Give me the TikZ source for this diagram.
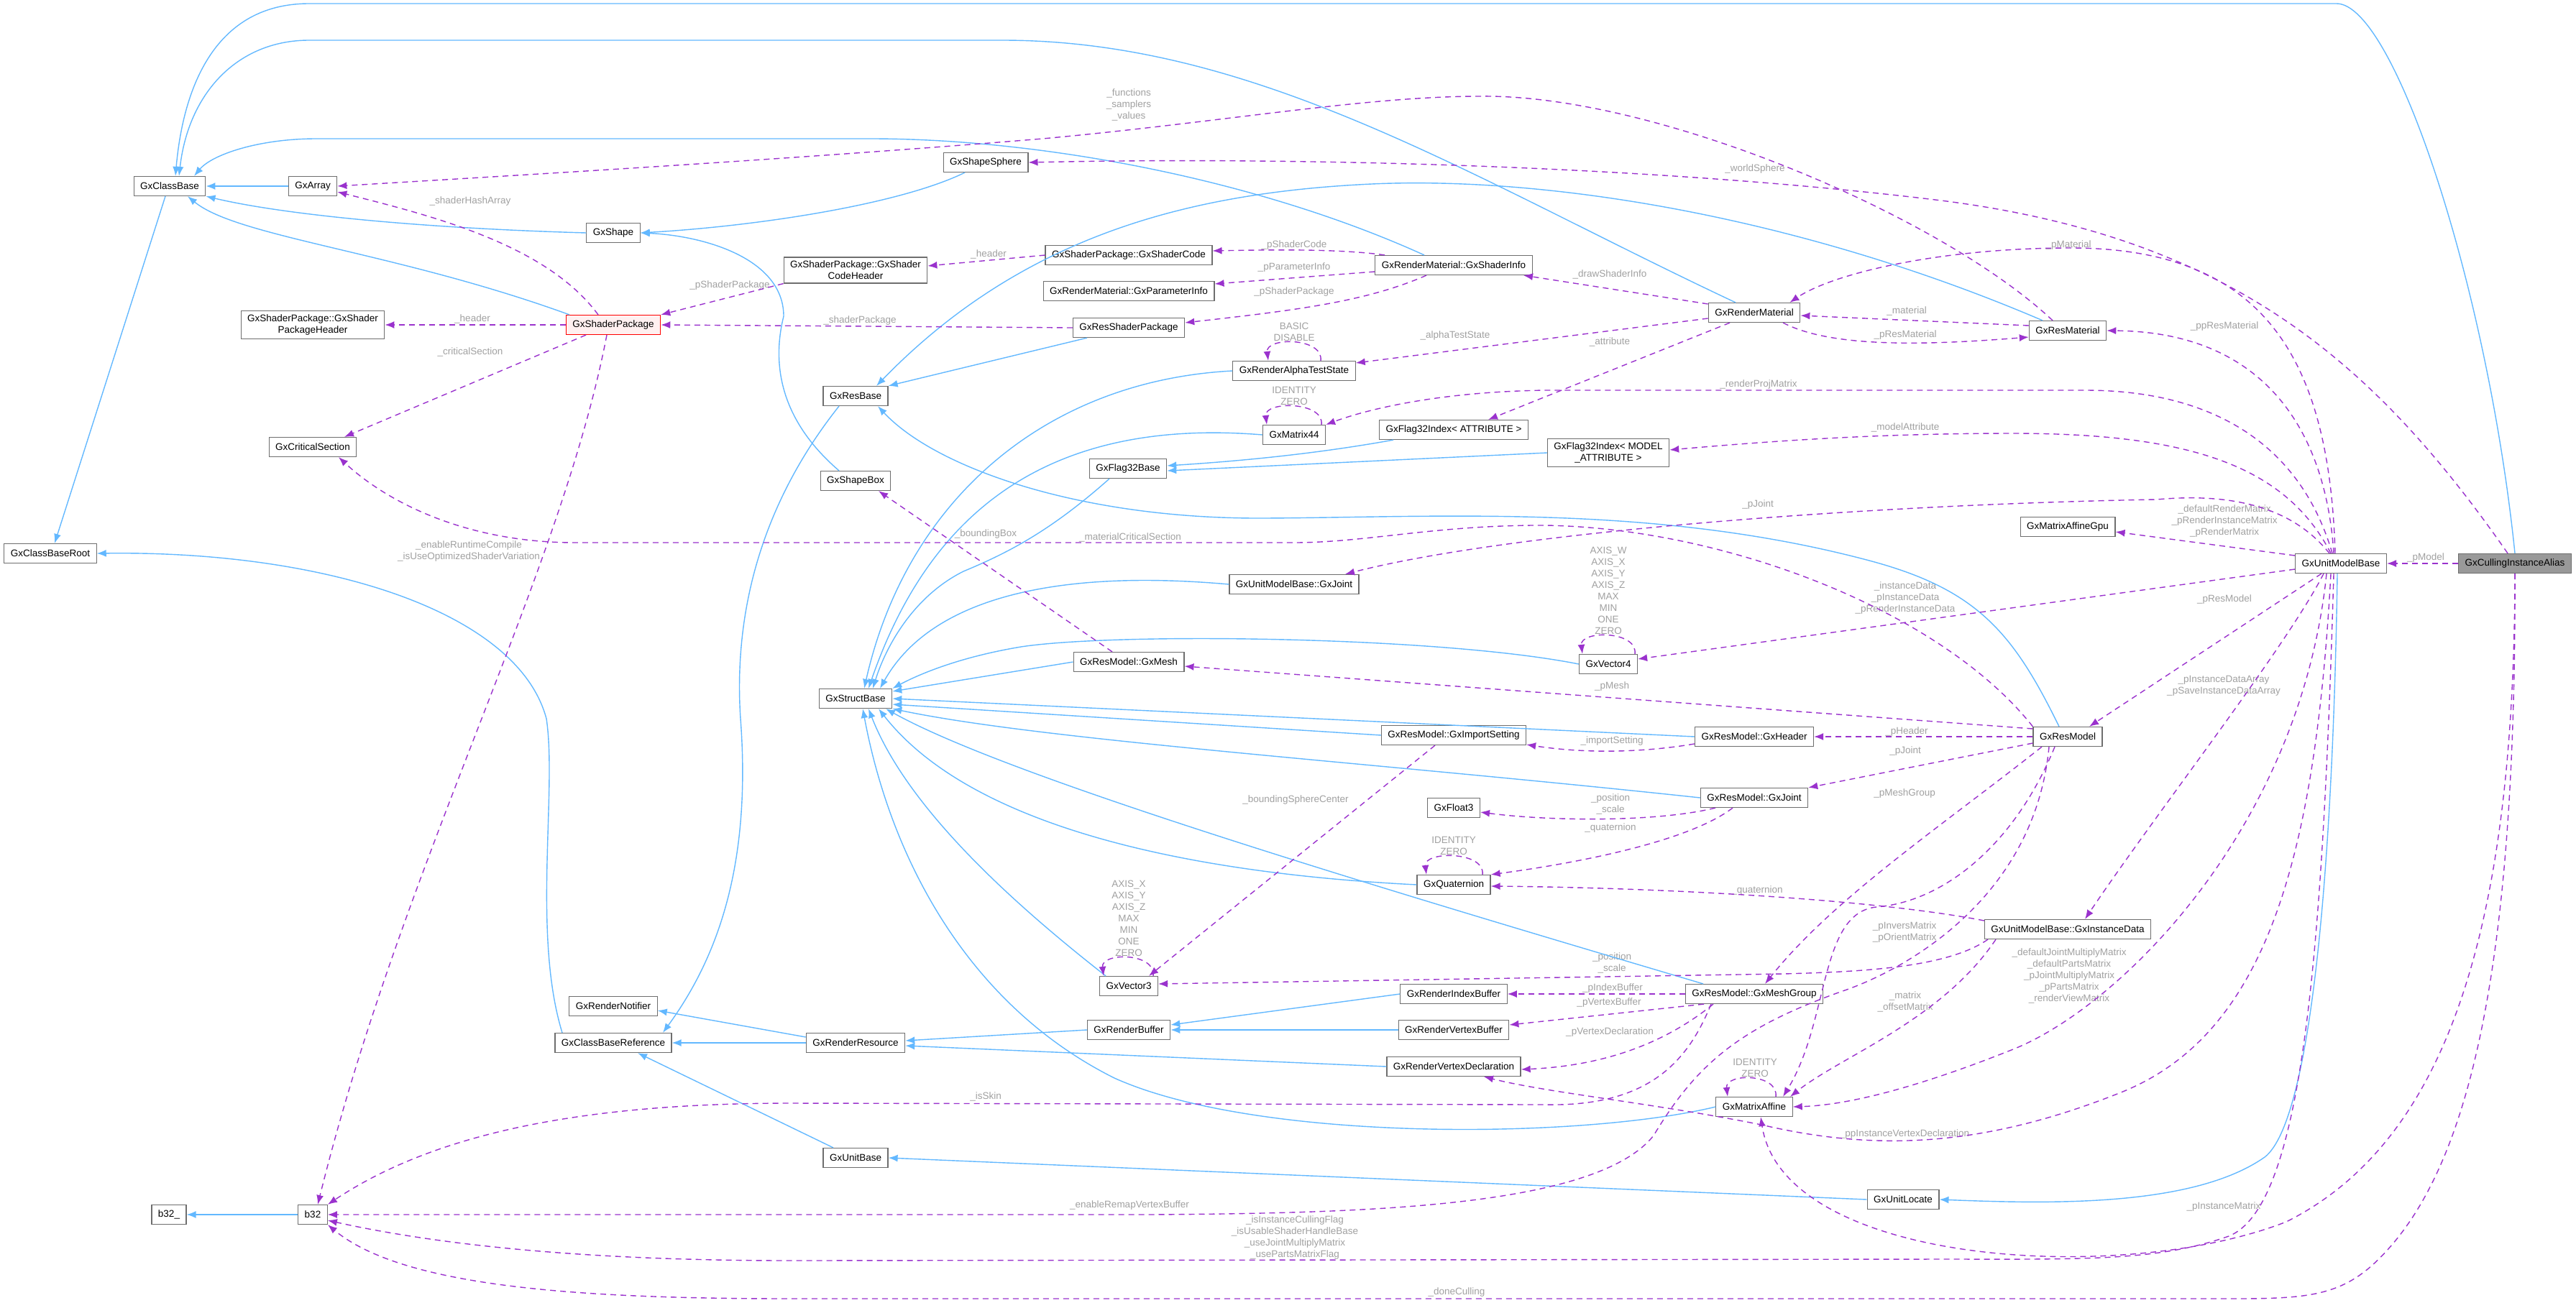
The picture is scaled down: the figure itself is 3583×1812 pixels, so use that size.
\documentclass[tikz,border=0pt]{standalone}
\usepackage{fontspec}
\setmainfont{Liberation Sans}
\usetikzlibrary{arrows.meta}

\definecolor{inhblue}{HTML}{63B8FF}
\definecolor{usepurple}{HTML}{9A32CD}
\definecolor{boxgray}{HTML}{6E6E6E}
\definecolor{lblgray}{HTML}{A0A0A0}
\definecolor{redframe}{HTML}{FF0000}
\definecolor{pinkfill}{HTML}{FFF0F0}
\definecolor{aliasfill}{HTML}{999999}

\tikzset{
    cls/.style={draw=boxgray, line width=1.2pt, fill=white, inner xsep=9pt, inner ysep=5pt,
        minimum height=27pt, align=center, font=\fontsize{13.5}{16}\selectfont},
    lbl/.style={text=lblgray, inner sep=0pt, align=center, font=\fontsize{13.5}{16}\selectfont},
    inh/.style={draw=inhblue, line width=1.4pt, -{Latex[length=13pt,width=10pt]}},
    use/.style={draw=usepurple, line width=1.4pt, dash pattern=on 8pt off 6pt, -{Latex[length=13pt,width=10pt]}}
}

\begin{document}
\begin{tikzpicture}[x=1pt,y=-1pt]
    \useasboundingbox (0,0) rectangle (3583,1812);

    % classes
    \node[cls, fill=aliasfill] (alias) at (3498,784) {GxCullingInstanceAlias};
    \node[cls] (umb) at (3256,784) {GxUnitModelBase};
    \node[cls] (gpu) at (2876,733) {GxMatrixAffineGpu};
    \node[cls] (resmat) at (2876,460) {GxResMaterial};
    \node[cls] (resmodel) at (2876,1025) {GxResModel};
    \node[cls] (instdata) at (2876,1293) {GxUnitModelBase::GxInstanceData};
    \node[cls] (rendermat) at (2440,435) {GxRenderMaterial};
    \node[cls] (flagmodel) at (2237,630) {GxFlag32Index< MODEL\\\_ATTRIBUTE >};
    \node[cls] (vec4) at (2237,924) {GxVector4};
    \node[cls] (header) at (2440,1025) {GxResModel::GxHeader};
    \node[cls] (resjoint) at (2440,1110) {GxResModel::GxJoint};
    \node[cls] (meshgroup) at (2440,1383) {GxResModel::GxMeshGroup};
    \node[cls] (maffine) at (2440,1540) {GxMatrixAffine};
    \node[cls] (unitlocate) at (2647,1669) {GxUnitLocate};
    \node[cls] (shaderinfo) at (2022,369) {GxRenderMaterial::GxShaderInfo};
    \node[cls] (flagattr) at (2022,598) {GxFlag32Index< ATTRIBUTE >};
    \node[cls] (importset) at (2022,1023) {GxResModel::GxImportSetting};
    \node[cls] (float3) at (2022,1124) {GxFloat3};
    \node[cls] (quat) at (2022,1231) {GxQuaternion};
    \node[cls] (idxbuf) at (2022,1383) {GxRenderIndexBuffer};
    \node[cls] (vtxbuf) at (2022,1433) {GxRenderVertexBuffer};
    \node[cls] (vtxdecl) at (2022,1484) {GxRenderVertexDeclaration};
    \node[cls] (shadercode) at (1570,355) {GxShaderPackage::GxShaderCode};
    \node[cls] (paraminfo) at (1570,405) {GxRenderMaterial::GxParameterInfo};
    \node[cls] (resshaderpkg) at (1570,456) {GxResShaderPackage};
    \node[cls] (alphatest) at (1800,516) {GxRenderAlphaTestState};
    \node[cls] (mat44) at (1800,605) {GxMatrix44};
    \node[cls] (flagbase) at (1569,652) {GxFlag32Base};
    \node[cls] (umbjoint) at (1800,813) {GxUnitModelBase::GxJoint};
    \node[cls] (mesh) at (1570,921) {GxResModel::GxMesh};
    \node[cls] (vec3) at (1570,1372) {GxVector3};
    \node[cls] (renderbuf) at (1570,1433) {GxRenderBuffer};
    \node[cls] (shapesphere) at (1371,226) {GxShapeSphere};
    \node[cls] (codeheader) at (1190,376) {GxShaderPackage::GxShader\\CodeHeader};
    \node[cls] (resbase) at (1190,551) {GxResBase};
    \node[cls] (shapebox) at (1190,669) {GxShapeBox};
    \node[cls] (structbase) at (1190,972) {GxStructBase};
    \node[cls] (renderres) at (1190,1451) {GxRenderResource};
    \node[cls] (unitbase) at (1190,1611) {GxUnitBase};
    \node[cls] (shape) at (853,324) {GxShape};
    \node[cls, draw=redframe, fill=pinkfill] (shaderpkg) at (853,452) {GxShaderPackage};
    \node[cls] (notifier) at (853,1400) {GxRenderNotifier};
    \node[cls] (cbref) at (853,1451) {GxClassBaseReference};
    \node[cls] (array) at (435,259) {GxArray};
    \node[cls] (pkgheader) at (435,452) {GxShaderPackage::GxShader\\PackageHeader};
    \node[cls] (critsec) at (435,622) {GxCriticalSection};
    \node[cls] (b32) at (435,1690) {b32};
    \node[cls] (classbase) at (236,259) {GxClassBase};
    \node[cls] (cbroot) at (70,770) {GxClassBaseRoot};
    \node[cls] (b32u) at (235,1690) {b32\_};

    % member labels
    \node[lbl] (lfunc) at (1570,146) {\_functions\\\_samplers\\\_values};
    \node[lbl] (lhash) at (654,280) {\_shaderHashArray};
    \node[lbl] (lpkghdr) at (657,444) {\_header};
    \node[lbl] (lcrit) at (654,490) {\_criticalSection};
    \node[lbl] (lruntime) at (652,767) {\_enableRuntimeCompile\\\_isUseOptimizedShaderVariation};
    \node[lbl] (lpshpkg) at (1015,397) {\_pShaderPackage};
    \node[lbl] (lshpkg) at (1196,446) {\_shaderPackage};
    \node[lbl] (lcodehdr) at (1375,354) {\_header};
    \node[lbl] (lpcode) at (1800,341) {\_pShaderCode};
    \node[lbl] (lpparam) at (1800,372) {\_pParameterInfo};
    \node[lbl] (lpshpkg2) at (1800,406) {\_pShaderPackage};
    \node[lbl] (ldraw) at (2239,382) {\_drawShaderInfo};
    \node[lbl] (lalpha) at (2024,467) {\_alphaTestState};
    \node[lbl] (lattr) at (2239,476) {\_attribute};
    \node[lbl] (lmaterial) at (2652,433) {\_material};
    \node[lbl] (lpresmat) at (2650,466) {\_pResMaterial};
    \node[lbl] (lproj) at (2446,535) {\_renderProjMatrix};
    \node[lbl] (lmodattr) at (2650,595) {\_modelAttribute};
    \node[lbl] (lworld) at (2441,235) {\_worldSphere};
    \node[lbl] (lpmat) at (2877,341) {\_pMaterial};
    \node[lbl] (lppresmat) at (3094,454) {\_ppResMaterial};
    \node[lbl] (lrender) at (3094,725) {\_defaultRenderMatrix\\\_pRenderInstanceMatrix\\\_pRenderMatrix};
    \node[lbl] (lpmodel) at (3374,776) {\_pModel};
    \node[lbl] (lpresmodel) at (3094,834) {\_pResModel};
    \node[lbl] (lpjoint) at (2445,702) {\_pJoint};
    \node[lbl] (linst) at (2650,832) {\_instanceData\\\_pInstanceData\\\_pRenderInstanceData};
    \node[lbl] (lpmesh) at (2242,955) {\_pMesh};
    \node[lbl] (lpheader) at (2652,1018) {\_pHeader};
    \node[lbl] (limport) at (2242,1031) {\_importSetting};
    \node[lbl] (lpjoint2) at (2650,1045) {\_pJoint};
    \node[lbl] (lpmeshgroup) at (2649,1104) {\_pMeshGroup};
    \node[lbl] (lposscale) at (2240,1119) {\_position\\\_scale};
    \node[lbl] (lquat) at (2240,1152) {\_quaternion};
    \node[lbl] (lquat2) at (2444,1239) {\_quaternion};
    \node[lbl] (lbbox) at (1371,743) {\_boundingBox};
    \node[lbl] (lmatcrit) at (1572,748) {\_materialCriticalSection};
    \node[lbl] (lbsphere) at (1802,1113) {\_boundingSphereCenter};
    \node[lbl] (linvers) at (2649,1297) {\_pInversMatrix\\\_pOrientMatrix};
    \node[lbl] (lposscale2) at (2242,1340) {\_position\\\_scale};
    \node[lbl] (lidx) at (2243,1375) {\_pIndexBuffer};
    \node[lbl] (lvtx) at (2238,1395) {\_pVertexBuffer};
    \node[lbl] (ldecl) at (2239,1436) {\_pVertexDeclaration};
    \node[lbl] (lmatrix) at (2650,1394) {\_matrix\\\_offsetMatrix};
    \node[lbl] (ljointmul) at (2878,1358) {\_defaultJointMultiplyMatrix\\\_defaultPartsMatrix\\\_pJointMultiplyMatrix\\\_pPartsMatrix\\\_renderViewMatrix};
    \node[lbl] (ldataarr) at (3093,954) {\_pInstanceDataArray\\\_pSaveInstanceDataArray};
    \node[lbl] (lppdecl) at (2649,1578) {\_ppInstanceVertexDeclaration};
    \node[lbl] (linstmat) at (3093,1679) {\_pInstanceMatrix};
    \node[lbl] (lskin) at (1371,1526) {\_isSkin};
    \node[lbl] (lremap) at (1571,1677) {\_enableRemapVertexBuffer};
    \node[lbl] (lflags) at (1801,1722) {\_isInstanceCullingFlag\\\_isUsableShaderHandleBase\\\_useJointMultiplyMatrix\\\_usePartsMatrixFlag};
    \node[lbl] (ldone) at (2026,1798) {\_doneCulling};
    \node[lbl] (lalphaself) at (1800,462) {BASIC\\DISABLE};
    \node[lbl] (lmat44self) at (1800,551) {IDENTITY\\ZERO};
    \node[lbl] (lvec4self) at (2237,822) {AXIS\_W\\AXIS\_X\\AXIS\_Y\\AXIS\_Z\\MAX\\MIN\\ONE\\ZERO};
    \node[lbl] (lvec3self) at (1570,1278) {AXIS\_X\\AXIS\_Y\\AXIS\_Z\\MAX\\MIN\\ONE\\ZERO};
    \node[lbl] (lquatself) at (2022,1177) {IDENTITY\\ZERO};
    \node[lbl] (lmaffself) at (2441,1486) {IDENTITY\\ZERO};

    % inheritance
    \draw[inh] (alias.north) .. controls (3460,400) and (3330,5) .. (3250,5) -- (430,5) .. controls (300,5) and (255,120) .. ([xshift=8pt]classbase.north);
    \draw[inh] ([xshift=-26pt]rendermat.north) .. controls (2050,250) and (1750,56) .. (1394,56) -- (430,56) .. controls (330,56) and (262,130) .. ([xshift=13pt]classbase.north);
    \draw[inh] ([xshift=-41pt]shaderinfo.north) .. controls (1750,250) and (1450,193) .. (1211,193) -- (440,193) .. controls (360,193) and (295,215) .. ([xshift=34pt]classbase.north);
    \draw[inh] ([xshift=-35pt]resmat.north) .. controls (2500,300) and (2150,245) .. (1908,256) .. controls (1650,268) and (1420,330) .. ([xshift=29pt]resbase.north);
    \draw[inh] (array.west) -- (classbase.east);
    \draw[inh] (shape.west) .. controls (600,318) and (400,300) .. (classbase.south east);
    \draw[inh] ([xshift=-61pt]shaderpkg.north) .. controls (550,350) and (330,330) .. ([xshift=25pt]classbase.south);
    \draw[inh] ([xshift=-6pt]classbase.south) -- ([xshift=6pt]cbroot.north);
    \draw[inh] ([xshift=-29pt]shapesphere.south) .. controls (1250,285) and (1050,315) .. (shape.east);
    \draw[inh] ([xshift=-23pt]shapebox.north) .. controls (1080,580) and (1075,500) .. (1090,440) .. controls (1090,360) and (980,328) .. (shape.east);
    \draw[inh] ([xshift=-58pt]resshaderpkg.south) -- (resbase.north east);
    \draw[inh] ([xshift=-23pt]resbase.south) .. controls (1060,700) and (1020,850) .. (1030,1000) .. controls (1045,1200) and (1000,1330) .. ([xshift=69pt]cbref.north);
    \draw[inh] ([xshift=-71pt]cbref.north) .. controls (740,1300) and (775,1100) .. (760,1000) .. controls (720,850) and (450,766) .. (cbroot.east);
    \draw[inh] (renderres.west) -- (cbref.east);
    \draw[inh] ([yshift=8pt]renderres.west) -- ([yshift=-6pt]notifier.east);
    \draw[inh] ([xshift=-31pt]unitbase.north) -- ([xshift=34pt]cbref.south);
    \draw[inh] (renderbuf.west) -- ([yshift=3pt]renderres.east);
    \draw[inh] (vtxdecl.west) -- ([yshift=-4pt]renderres.east);
    \draw[inh] (idxbuf.west) -- ([yshift=7pt]renderbuf.east);
    \draw[inh] (vtxbuf.west) -- (renderbuf.east);
    \draw[inh] (unitlocate.west) -- (unitbase.east);
    \draw[inh] ([xshift=-5pt]umb.south) .. controls (3245,1200) and (3215,1560) .. (3150,1610) .. controls (3050,1680) and (2850,1675) .. (unitlocate.east);
    \draw[inh] (alphatest.west) .. controls (1450,530) and (1260,700) .. ([xshift=12pt]structbase.north);
    \draw[inh] (mat44.west) .. controls (1450,580) and (1290,720) .. ([xshift=18pt]structbase.north);
    \draw[inh] ([xshift=-26pt]flagbase.south) .. controls (1460,740) and (1400,770) .. (1340,795) .. controls (1270,830) and (1232,900) .. ([xshift=24pt]structbase.north);
    \draw[inh] ([xshift=-84pt]flagattr.south) .. controls (1850,628) and (1750,640) .. ([yshift=4pt]flagbase.east);
    \draw[inh] (flagmodel.west) -- ([yshift=-3pt]flagbase.east);
    \draw[inh] (umbjoint.west) .. controls (1450,790) and (1290,840) .. ([xshift=34pt]structbase.north);
    \draw[inh] (vec4.west) .. controls (2000,885) and (1550,880) .. (1420,900) .. controls (1330,915) and (1275,940) .. (structbase.north east);
    \draw[inh] (mesh.west) -- ([yshift=10pt]structbase.east);
    \draw[inh] (header.west) -- (structbase.east);
    \draw[inh] (importset.west) -- ([yshift=-8pt]structbase.east);
    \draw[inh] (resjoint.west) .. controls (1900,1060) and (1450,1030) .. (structbase.south east);
    \draw[inh] (quat.west) .. controls (1650,1215) and (1350,1150) .. ([xshift=32pt]structbase.south);
    \draw[inh] ([xshift=-71pt]meshgroup.north) .. controls (1900,1230) and (1400,1080) .. ([xshift=42pt]structbase.south);
    \draw[inh] (maffine.west) .. controls (2200,1585) and (1750,1590) .. (1550,1500) .. controls (1350,1400) and (1240,1200) .. ([xshift=10pt]structbase.south);
    \draw[inh] ([xshift=-32pt]vec3.north) .. controls (1400,1250) and (1260,1120) .. ([xshift=18pt]structbase.south);
    \draw[inh] ([xshift=-12pt]resmodel.north) .. controls (2800,880) and (2750,820) .. (2600,780) .. controls (2300,700) and (2000,720) .. (1756,721) .. controls (1500,722) and (1300,650) .. ([xshift=31pt]resbase.south);
    \draw[inh] (b32.west) -- (b32u.east);

    % members
    \draw[use] (alias.west) -- (umb.east);
    \draw[use] ([xshift=-10pt]alias.north) .. controls (3300,500) and (3100,330) .. (2700,279) .. controls (2300,230) and (1800,218) .. (shapesphere.east);
    \draw[use] (alias.south) .. controls (3497,1300) and (3400,1590) .. (3180,1700) .. controls (2950,1790) and (2480,1760) .. ([xshift=9pt]maffine.south);
    \draw[use] (alias.south) .. controls (3500,1400) and (3420,1650) .. (3300,1760) .. controls (3250,1805) and (3200,1807) .. (3100,1807) -- (1100,1807) .. controls (800,1807) and (560,1790) .. (b32.south east);
    \draw[use] ([xshift=-21pt]resmat.north) .. controls (2700,300) and (2300,130) .. (2057,134) .. controls (1900,134) and (1700,170) .. (1450,193) .. controls (1100,222) and (700,245) .. (array.east);
    \draw[use] ([xshift=-21pt]shaderpkg.north) .. controls (760,340) and (600,300) .. ([yshift=-8pt]array.east);
    \draw[use] (shaderpkg.west) -- (pkgheader.east);
    \draw[use] ([xshift=-38pt]shaderpkg.south) -- ([xshift=44pt]critsec.north);
    \draw[use] ([xshift=-9pt]shaderpkg.south) .. controls (780,800) and (560,1200) .. ([xshift=7pt]b32.north);
    \draw[use] (codeheader.south west) -- (shaderpkg.north east);
    \draw[use] (resshaderpkg.west) -- (shaderpkg.east);
    \draw[use] (shadercode.west) -- ([yshift=6pt]codeheader.east);
    \draw[use] ([xshift=-96pt]shaderinfo.north) .. controls (1870,347) and (1790,347) .. ([yshift=6pt]shadercode.east);
    \draw[use] ([yshift=-9pt]shaderinfo.west) -- ([yshift=10pt]paraminfo.east);
    \draw[use] ([xshift=-38pt]shaderinfo.south) .. controls (1900,420) and (1800,432) .. ([yshift=7pt]resshaderpkg.east);
    \draw[use] ([yshift=12pt]rendermat.west) -- ([xshift=97pt]shaderinfo.south);
    \draw[use] ([yshift=-8pt]rendermat.west) -- ([yshift=11pt]alphatest.east);
    \draw[use] ([xshift=-34pt]rendermat.south) -- ([xshift=48pt]flagattr.north);
    \draw[use] ([xshift=40pt]rendermat.south) .. controls (2540,480) and (2650,483) .. ([yshift=-9pt]resmat.west);
    \draw[use] ([yshift=7pt]resmat.west) -- ([yshift=-4pt]rendermat.east);
    \draw[use] ([xshift=-12pt]umb.north) .. controls (3200,620) and (3080,543) .. (2900,543) -- (2150,543) .. controls (2000,545) and (1900,570) .. (mat44.north east);
    \draw[use] ([xshift=-14pt]umb.north) .. controls (3180,650) and (3050,603) .. (2800,603) .. controls (2600,603) and (2450,615) .. ([yshift=4pt]flagmodel.east);
    \draw[use] ([xshift=-16pt]umb.north) .. controls (3200,720) and (3130,683) .. (3000,695) .. controls (2600,702) and (2100,740) .. ([xshift=71pt]umbjoint.north);
    \draw[use] ([xshift=-8pt]umb.north) .. controls (3240,500) and (3150,345) .. (2880,345) .. controls (2700,345) and (2550,380) .. ([xshift=-15pt]rendermat.north east);
    \draw[use] ([xshift=-10pt]umb.north) .. controls (3235,600) and (3150,462) .. (resmat.east);
    \draw[use] ([yshift=11pt]umb.west) -- ([yshift=-7pt]gpu.east);
    \draw[use] ([xshift=-27pt]umb.south) -- ([xshift=30pt]resmodel.north);
    \draw[use] ([yshift=-8pt]umb.west) -- ([yshift=7pt]vec4.east);
    \draw[use] ([yshift=11pt]resmodel.west) -- ([yshift=-6pt]mesh.east);
    \draw[use] (resmodel.west) -- (header.east);
    \draw[use] ([yshift=-9pt]resmodel.west) -- (resjoint.north east);
    \draw[use] ([xshift=-36pt]resmodel.south) .. controls (2700,1150) and (2550,1250) .. ([xshift=15pt]meshgroup.north);
    \draw[use] ([yshift=-10pt]header.west) .. controls (2280,1048) and (2200,1048) .. ([yshift=-13pt]importset.east);
    \draw[use] ([xshift=-54pt]resjoint.south) .. controls (2300,1145) and (2150,1142) .. ([yshift=-6pt]float3.east);
    \draw[use] ([xshift=-30pt]resjoint.south) .. controls (2350,1170) and (2200,1200) .. (quat.north east);
    \draw[use] ([yshift=12pt]instdata.west) .. controls (2600,1250) and (2300,1235) .. ([yshift=-2pt]quat.east);
    \draw[use] ([xshift=-26pt]importset.south) -- ([xshift=28pt]vec3.north);
    \draw[use] ([xshift=-23pt]mesh.north) -- ([xshift=32pt]shapebox.south);
    \draw[use] ([xshift=-111pt]instdata.south) .. controls (2710,1345) and (2600,1352) .. (2480,1355) -- ([yshift=3pt]vec3.east);
    \draw[use] (meshgroup.west) -- (idxbuf.east);
    \draw[use] ([xshift=-70pt]meshgroup.south) -- ([yshift=7pt]vtxbuf.east);
    \draw[use] ([xshift=-57pt]meshgroup.south) .. controls (2330,1440) and (2250,1482) .. ([yshift=-4pt]vtxdecl.east);
    \draw[use] ([xshift=-18pt]resmodel.south) .. controls (2800,1180) and (2700,1255) .. (2610,1262) .. controls (2530,1270) and (2545,1420) .. ([xshift=40pt]maffine.north);
    \draw[use] ([xshift=-100pt]instdata.south) .. controls (2700,1420) and (2560,1470) .. ([xshift=50pt]maffine.north);
    \draw[use] ([xshift=-20pt]umb.south) .. controls (3200,1150) and (2950,1400) .. (2800,1460) .. controls (2650,1520) and (2560,1538) .. (maffine.east);
    \draw[use] ([xshift=-14pt]umb.south) .. controls (3220,1200) and (3150,1440) .. (2950,1520) .. controls (2750,1600) and (2600,1600) .. (2450,1565) .. controls (2300,1535) and (2150,1520) .. ([xshift=42pt]vtxdecl.south);
    \draw[use] ([xshift=-24pt]umb.south) .. controls (3180,900) and (3000,1130) .. ([xshift=24pt]instdata.north);
    \draw[use] ([xshift=-60pt]meshgroup.south) .. controls (2350,1470) and (2300,1540) .. (2150,1537) -- (1100,1535) .. controls (800,1535) and (600,1580) .. (b32.north east);
    \draw[use] ([xshift=-26pt]resmodel.south) .. controls (2830,1250) and (2650,1350) .. (2560,1380) .. controls (2420,1430) and (2360,1480) .. (2300,1580) .. controls (2220,1680) and (1900,1688) .. (1600,1690) -- (b32.east);
    \draw[use] ([xshift=-10pt]umb.south) .. controls (3230,1350) and (3200,1680) .. (3100,1720) .. controls (3000,1755) and (2900,1752) .. (2700,1752) -- (1100,1754) .. controls (800,1754) and (600,1730) .. ([yshift=-8pt]b32.east);
    \draw[use] (resmodel.north west) .. controls (2700,850) and (2400,735) .. (2150,731) .. controls (2000,730) and (1900,755) .. (1800,755) -- (800,755) .. controls (650,755) and (540,700) .. ([xshift=36pt]critsec.south);

    % self references
    \draw[use] ([xshift=37pt]alphatest.north) .. controls +(4,-33) and +(-4,-33) .. ([xshift=-36pt]alphatest.north);
    \draw[use] ([xshift=38pt]mat44.north) .. controls +(4,-33) and +(-4,-33) .. ([xshift=-38pt]mat44.north);
    \draw[use] ([xshift=37pt]vec4.north) .. controls +(4,-33) and +(-4,-33) .. ([xshift=-36pt]vec4.north);
    \draw[use] ([xshift=34pt]vec3.north) .. controls +(4,-33) and +(-4,-33) .. ([xshift=-35pt]vec3.north);
    \draw[use] ([xshift=40pt]quat.north) .. controls +(4,-33) and +(-4,-33) .. ([xshift=-38pt]quat.north);
    \draw[use] ([xshift=30pt]maffine.north) .. controls +(4,-33) and +(-4,-33) .. ([xshift=-37pt]maffine.north);
\end{tikzpicture}
\end{document}
